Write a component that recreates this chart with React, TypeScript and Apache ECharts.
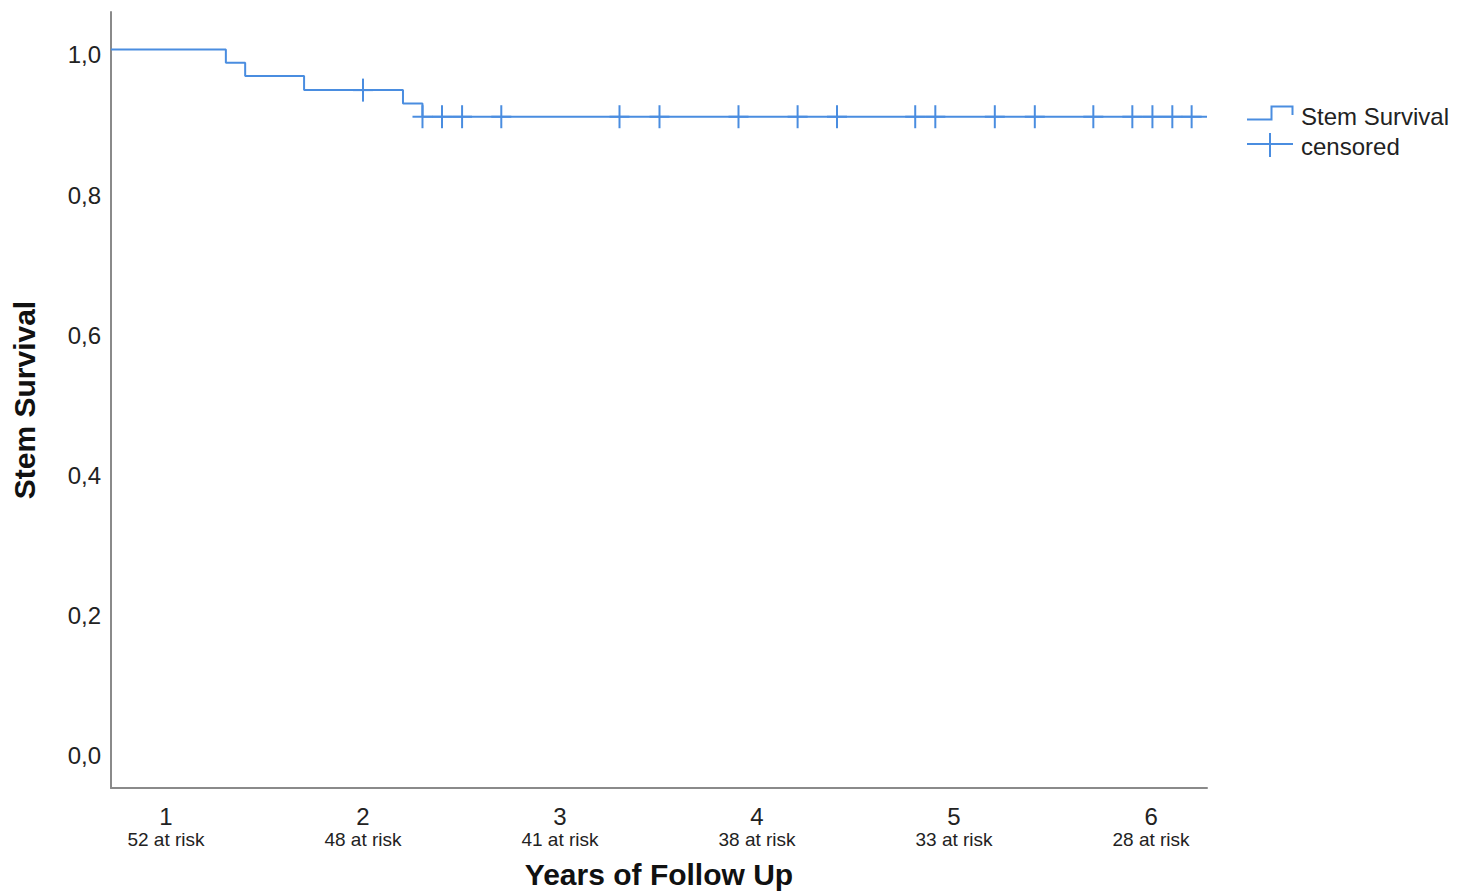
import React, { useEffect, useRef } from "react";
import * as echarts from "echarts";

// ---- Data ----
const xStart = 0.721; // left edge of the time axis, where the curve begins
const xEnd = 6.284; // end of follow-up
const eventTimes = [1.304, 1.402, 1.701, 2.203, 2.302];
const eventSurvival = [0.981, 0.962, 0.942, 0.923, 0.904];
const censorTimes = [
  2.0, 2.302, 2.401, 2.503, 2.702, 3.302, 3.505, 3.906, 4.206, 4.406, 4.803,
  4.905, 5.207, 5.41, 5.707, 5.905, 6.007, 6.108, 6.206,
];
const censorSurvival = [
  0.942, 0.904, 0.904, 0.904, 0.904, 0.904, 0.904, 0.904, 0.904, 0.904, 0.904,
  0.904, 0.904, 0.904, 0.904, 0.904, 0.904, 0.904, 0.904,
];
const yearTicks = [1, 2, 3, 4, 5, 6];
const atRisk = [52, 48, 41, 38, 33, 28];
const yTicks = [0, 0.2, 0.4, 0.6, 0.8, 1.0];

const BLUE = "#4a8de0";
const AXIS = "#8a8a8a";
const TEXT = "#222222";
const FONT = "'Liberation Sans', Arial, sans-serif";

export default function App() {
  const ref = useRef<HTMLDivElement>(null);

  useEffect(() => {
    if (!ref.current) return;
    const chart = echarts.init(ref.current, null, { renderer: "svg" });

    const stepData: number[][] = [[xStart, 1.0]];
    eventTimes.forEach((t, i) => stepData.push([t, eventSurvival[i]]));
    stepData.push([xEnd, eventSurvival[eventSurvival.length - 1]]);

    const censorData = censorTimes.map((t, i) => [t, censorSurvival[i]]);

    const option: any = {
      animation: false,
      backgroundColor: "#ffffff",
      textStyle: { fontFamily: FONT },
      grid: {
        left: 111,
        right: 261,
        top: 12,
        bottom: 104,
        containLabel: false,
        outerBoundsMode: "none",
      },
      xAxis: {
        type: "value",
        min: xStart,
        max: xEnd,
        name: "Years of Follow Up",
        nameLocation: "middle",
        nameGap: 71,
        nameTextStyle: {
          fontFamily: FONT,
          fontSize: 30,
          fontWeight: "bold",
          color: "#111",
        },
        axisLine: { show: true, onZero: false, lineStyle: { color: AXIS, width: 2 } },
        axisTick: { show: false },
        splitLine: { show: false },
        axisLabel: {
          customValues: yearTicks,
          margin: 17,
          formatter: (v: number) => {
            const i = yearTicks.indexOf(Math.round(v));
            return `{n|${Math.round(v)}}\n{r|${atRisk[i]} at risk}`;
          },
          rich: {
            n: { fontFamily: FONT, fontSize: 24, lineHeight: 23, color: TEXT, align: "center" },
            r: { fontFamily: FONT, fontSize: 19, lineHeight: 22, color: TEXT, align: "center" },
          },
        },
      },
      yAxis: {
        type: "value",
        min: -0.0542,
        max: 1.0535,
        name: "Stem Survival",
        nameLocation: "middle",
        nameGap: 72,
        nameTextStyle: {
          fontFamily: FONT,
          fontSize: 30,
          fontWeight: "bold",
          color: "#111",
        },
        axisLine: { show: true, onZero: false, lineStyle: { color: AXIS, width: 2 } },
        axisTick: { show: false },
        splitLine: { show: false },
        axisLabel: {
          customValues: yTicks,
          margin: 10,
          verticalAlign: "top",
          lineHeight: 11,
          fontFamily: FONT,
          fontSize: 24,
          color: TEXT,
          formatter: (v: number) => v.toFixed(1).replace(".", ","),
        },
      },
      series: [
        {
          type: "line",
          name: "Stem Survival",
          step: "end",
          data: stepData,
          showSymbol: false,
          symbol: "none",
          lineStyle: { color: BLUE, width: 2 },
          z: 2,
        },
        {
          type: "custom",
          name: "censored",
          data: censorData,
          z: 3,
          renderItem: (params: any, api: any) => {
            const p = api.coord([api.value(0), api.value(1)]);
            return {
              type: "group",
              children: [
                {
                  type: "line",
                  shape: { x1: p[0], y1: p[1] - 11.5, x2: p[0], y2: p[1] + 11.5 },
                  style: { stroke: BLUE, lineWidth: 2 },
                },
                {
                  type: "line",
                  shape: { x1: p[0] - 10, y1: p[1], x2: p[0] + 10, y2: p[1] },
                  style: { stroke: BLUE, lineWidth: 2 },
                },
              ],
            };
          },
        },
      ],
      graphic: [
        {
          type: "polyline",
          shape: {
            points: [
              [1247, 119.5],
              [1271.5, 119.5],
              [1271.5, 106.5],
              [1292.5, 106.5],
              [1292.5, 115],
            ],
          },
          style: { stroke: BLUE, lineWidth: 2, fill: null },
        },
        {
          type: "text",
          x: 1301,
          y: 116,
          style: {
            text: "Stem Survival",
            fontFamily: FONT,
            fontSize: 24,
            fill: TEXT,
            verticalAlign: "middle",
            align: "left",
          },
        },
        {
          type: "line",
          shape: { x1: 1247, y1: 144, x2: 1293, y2: 144 },
          style: { stroke: BLUE, lineWidth: 2 },
        },
        {
          type: "line",
          shape: { x1: 1270, y1: 133, x2: 1270, y2: 157 },
          style: { stroke: BLUE, lineWidth: 2 },
        },
        {
          type: "text",
          x: 1301,
          y: 146,
          style: {
            text: "censored",
            fontFamily: FONT,
            fontSize: 24,
            fill: TEXT,
            verticalAlign: "middle",
            align: "left",
          },
        },
      ],
    };

    chart.setOption(option);
    return () => chart.dispose();
  }, []);

  return (
    <div
      ref={ref}
      style={{
        position: "fixed",
        left: 0,
        top: 0,
        width: 1468,
        height: 892,
        background: "#fff",
      }}
    />
  );
}
